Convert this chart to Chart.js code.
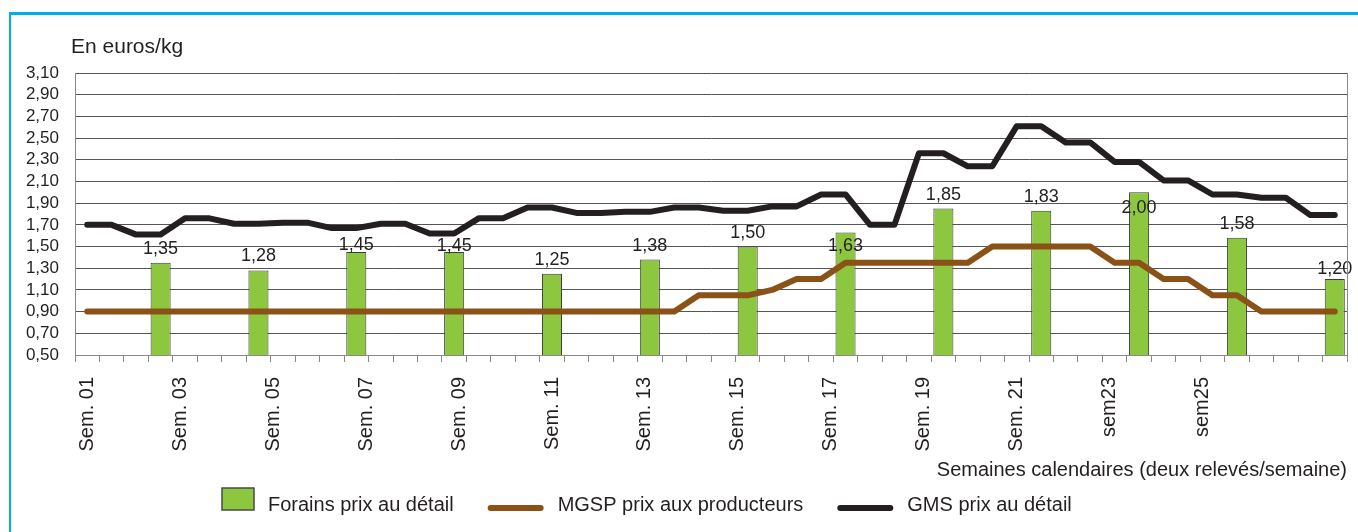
<!DOCTYPE html>
<html>
<head>
<meta charset="utf-8">
<script src="https://cdn.jsdelivr.net/npm/chart.js@4.4.1/dist/chart.umd.min.js"></script>
<style>
html, body { margin: 0; padding: 0; background: #fff; }
#cadre { position: absolute; left: 9px; top: 12px; width: 1349px; height: 520px; box-sizing: border-box;
         border-top: 3px solid #00aeef; border-left: 2px solid #00aeef; }
#zone { position: absolute; left: 0; top: 0; width: 1358px; height: 532px; }
canvas { display: block; }
</style>
</head>
<body>
<div id="cadre"></div>
<div id="zone"><canvas id="graphPrix" width="1358" height="532"></canvas></div>
<script>
// deux relevés par semaine, semaines 01 à 26
const releves = [];
for (let s = 1; s <= 26; s++) {
    const n = String(s).padStart(2, '0');
    releves.push('Sem. ' + n + ' (1)', 'Sem. ' + n + ' (2)');
}

const etiquettesSemaines = ['Sem. 01', 'Sem. 03', 'Sem. 05', 'Sem. 07', 'Sem. 09', 'Sem. 11', 'Sem. 13',
    'Sem. 15', 'Sem. 17', 'Sem. 19', 'Sem. 21', 'sem23', 'sem25'];

// Forains prix au détail (un relevé toutes les deux semaines)
const forains = [
    null, null, null, 1.35,   null, null, null, 1.28,
    null, null, null, 1.45,   null, null, null, 1.45,
    null, null, null, 1.25,   null, null, null, 1.38,
    null, null, null, 1.50,   null, null, null, 1.63,
    null, null, null, 1.85,   null, null, null, 1.83,
    null, null, null, 2.00,   null, null, null, 1.58,
    null, null, null, 1.20
];

// MGSP prix aux producteurs
const mgsp = [
    0.90, 0.90, 0.90, 0.90,   0.90, 0.90, 0.90, 0.90,
    0.90, 0.90, 0.90, 0.90,   0.90, 0.90, 0.90, 0.90,
    0.90, 0.90, 0.90, 0.90,   0.90, 0.90, 0.90, 0.90,
    0.90, 1.05, 1.05, 1.05,   1.10, 1.20, 1.20, 1.35,
    1.35, 1.35, 1.35, 1.35,   1.35, 1.50, 1.50, 1.50,
    1.50, 1.50, 1.35, 1.35,   1.20, 1.20, 1.05, 1.05,
    0.90, 0.90, 0.90, 0.90
];

// GMS prix au détail
const gms = [
    1.70, 1.70, 1.61, 1.61,   1.76, 1.76, 1.71, 1.71,
    1.72, 1.72, 1.67, 1.67,   1.71, 1.71, 1.62, 1.62,
    1.76, 1.76, 1.86, 1.86,   1.81, 1.81, 1.82, 1.82,
    1.86, 1.86, 1.83, 1.83,   1.87, 1.87, 1.98, 1.98,
    1.70, 1.70, 2.36, 2.36,   2.24, 2.24, 2.61, 2.61,
    2.46, 2.46, 2.28, 2.28,   2.11, 2.11, 1.98, 1.98,
    1.95, 1.95, 1.79, 1.79
];

const police = '"Liberation Sans", Arial, sans-serif';
const noir = '#231f20';

function virgule(v) {
    return Number(v).toFixed(2).replace('.', ',');
}

// valeurs au-dessus des barres vertes
const etiquettesBarres = {
    id: 'etiquettesBarres',
    afterDatasetDraw(chart, args, opts) {
        if (chart.data.datasets[args.index].type !== 'bar') return;
        const ctx = chart.ctx;
        ctx.save();
        ctx.font = '18px ' + police;
        ctx.fillStyle = noir;
        ctx.textAlign = 'center';
        ctx.textBaseline = 'alphabetic';
        args.meta.data.forEach((barre, i) => {
            if (forains[i] == null) return;
            const decal = opts.decalage[i] || 0;
            ctx.fillText(virgule(forains[i]), barre.x, barre.y - 9 + decal);
        });
        ctx.restore();
    }
};

// unité, bord droit et légende
const habillage = {
    id: 'habillage',
    afterDraw(chart) {
        const ctx = chart.ctx;
        const area = chart.chartArea;
        ctx.save();
        ctx.strokeStyle = '#8a8a8a';
        ctx.lineWidth = 1;
        ctx.beginPath();
        ctx.moveTo(area.right + 0.5, area.top);
        ctx.lineTo(area.right + 0.5, area.bottom);
        ctx.stroke();

        ctx.fillStyle = noir;
        ctx.font = '21px ' + police;
        ctx.textBaseline = 'alphabetic';
        ctx.fillText('En euros/kg', 71, 53);

        const ds = chart.data.datasets;
        const items = [ds[2], ds[1], ds[0]];
        let x = 222;
        const y = 499;
        ctx.font = '20px ' + police;
        items.forEach(d => {
            let w;
            if (d.type === 'bar') {
                w = 32;
                ctx.fillStyle = d.backgroundColor;
                ctx.fillRect(x, y - 11, w, 22);
                ctx.strokeStyle = '#4a4a4a';
                ctx.lineWidth = 1.5;
                ctx.strokeRect(x, y - 11, w, 22);
                x += w + 14;
            } else {
                w = 56;
                ctx.strokeStyle = d.borderColor;
                ctx.lineWidth = d.borderWidth;
                ctx.lineCap = 'round';
                ctx.beginPath();
                ctx.moveTo(x + 3, y + 9);
                ctx.lineTo(x + w - 3, y + 9);
                ctx.stroke();
                x += w + 14;
            }
            ctx.fillStyle = noir;
            ctx.fillText(d.label, x, y + 12);
            x += ctx.measureText(d.label).width + 34;
        });
        ctx.restore();
    }
};

Chart.defaults.font.family = police;
Chart.defaults.color = noir;

const graph = new Chart('graphPrix', {
    type: 'bar',
    data: {
        labels: releves,
        datasets: [
            {
                type: 'line',
                label: 'GMS prix au détail',
                data: gms,
                borderColor: noir,
                borderWidth: 6,
                pointRadius: 0,
                tension: 0,
                borderCapStyle: 'round',
                borderJoinStyle: 'round',
                order: 1
            },
            {
                type: 'line',
                label: 'MGSP prix aux producteurs',
                data: mgsp,
                borderColor: '#8b5217',
                borderWidth: 6,
                pointRadius: 0,
                tension: 0,
                borderCapStyle: 'round',
                borderJoinStyle: 'round',
                order: 2
            },
            {
                type: 'bar',
                label: 'Forains prix au détail',
                data: forains,
                backgroundColor: '#8dc63f',
                borderColor: '#3c3c3c',
                borderWidth: 1,
                barPercentage: 0.82,
                categoryPercentage: 1,
                order: 3
            }
        ]
    },
    options: {
        responsive: false,
        devicePixelRatio: 1,
        animation: false,
        layout: { padding: { left: 0, right: 11, top: 73, bottom: 45 } },
        plugins: {
            legend: { display: false },
            tooltip: { enabled: false },
            etiquettesBarres: { decalage: { 11: 7, 15: 8, 31: 28, 43: 30, 51: 4 } }
        },
        scales: {
            x: {
                type: 'category',
                offset: true,
                weight: 0,
                grid: { drawOnChartArea: false, offset: true, tickLength: 7, color: '#8a8a8a' },
                border: { color: '#8a8a8a' },
                ticks: { display: false },
                afterFit: s => { s.height = 7; }
            },
            x2: {
                type: 'linear',
                position: 'bottom',
                offset: false,
                min: -0.5,
                max: 51.5,
                weight: 1,
                grid: { display: false, offset: false },
                border: { display: false },
                afterBuildTicks: s => {
                    s.ticks = etiquettesSemaines.map((e, k) => ({ value: k * 3.8 }));
                },
                ticks: {
                    autoSkip: false,
                    minRotation: 90,
                    maxRotation: 90,
                    padding: 7,
                    font: { size: 20 },
                    color: noir,
                    callback: (v, i) => etiquettesSemaines[i]
                },
                title: {
                    display: true,
                    text: 'Semaines calendaires (deux relevés/semaine)',
                    align: 'end',
                    font: { size: 20 },
                    color: noir,
                    padding: { top: 0, bottom: 5 }
                },
                afterFit: s => { s.height = 125; }
            },
            y: {
                min: 0.5,
                max: 3.1,
                grid: { color: '#555555', drawTicks: false },
                border: { color: '#8a8a8a' },
                ticks: {
                    stepSize: 0.2,
                    autoSkip: false,
                    padding: 16,
                    font: { size: 17 },
                    color: noir,
                    callback: v => virgule(v)
                },
                afterFit: s => { s.width = 75; }
            }
        }
    },
    plugins: [etiquettesBarres, habillage]
});
</script>
</body>
</html>
